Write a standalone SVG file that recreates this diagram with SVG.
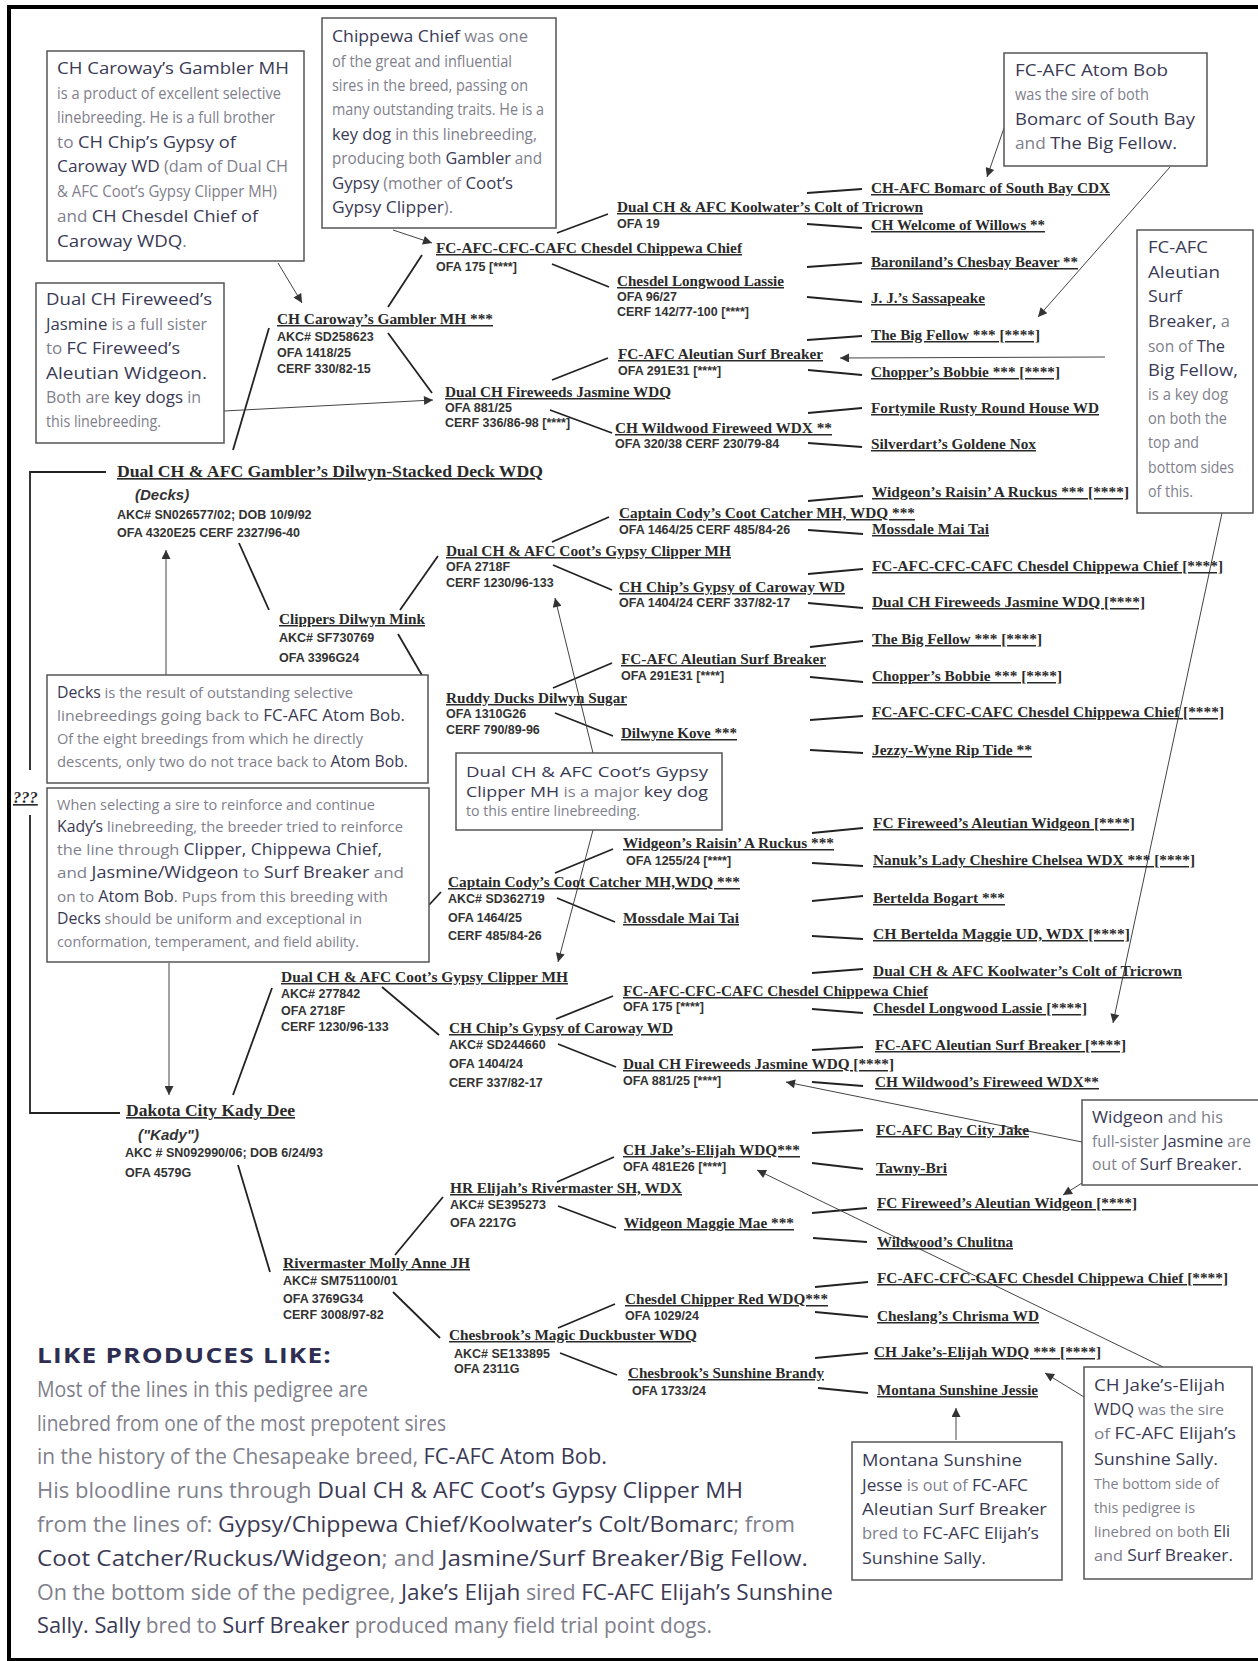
<svg xmlns="http://www.w3.org/2000/svg" width="1258" height="1661" viewBox="0 0 1258 1661">
<style>
.nm{font-family:"Liberation Serif","Times New Roman",serif;font-weight:bold;font-size:15px;fill:#2a2a2a;text-decoration:underline}
.big{font-size:16.5px}
.inf{font-family:"Liberation Sans",Arial,sans-serif;font-weight:bold;font-size:12.5px;fill:#333}
.it{font-family:"Liberation Sans",Arial,sans-serif;font-weight:bold;font-style:italic;font-size:15px;fill:#333}
.ct{font-family:"Liberation Sans Narrow","Open Sans",sans-serif;font-size:16px;fill:#80808c}
.d{font-family:"Open Sans","Noto Sans",sans-serif;font-size:17px;fill:#3a3a55}
.k .ct{font-size:14px}
.k .d{font-size:15px}
.s .ct{font-size:15px}
.s .d{font-size:16px}
.lp{font-family:"Liberation Sans Narrow","Open Sans",sans-serif;font-size:21px;fill:#80808c}
.lpd{font-family:"Open Sans","Noto Sans",sans-serif;font-size:22px;fill:#3a3a55}
.ttl{font-family:"Open Sans","Noto Sans",sans-serif;font-weight:bold;font-size:22px;fill:#2e2e52;letter-spacing:1px}
.ln{stroke:#222;stroke-width:1.8;fill:none}
.thin{stroke:#444;stroke-width:1;fill:none;marker-end:url(#ah)}
.box{fill:#fff;stroke:#555;stroke-width:1.5}
.frame{stroke:#000;fill:none}
</style>
<defs>
<marker id="ah" viewBox="0 0 10 10" refX="10" refY="5" markerWidth="13" markerHeight="9" markerUnits="userSpaceOnUse" orient="auto"><path d="M0,0 L10,5 L0,10 z" fill="#333"/></marker>
</defs>
<rect x="0" y="0" width="1258" height="1661" fill="#fff"/>
<g id="frame">
<line class="frame" x1="7" y1="7" x2="1258" y2="7" stroke-width="4"/>
<line class="frame" x1="9" y1="5" x2="9" y2="1661" stroke-width="4"/>
<line class="frame" x1="7" y1="1659.5" x2="1258" y2="1659.5" stroke-width="3"/>
</g>

<g id="connectors">
<path class="ln" d="M106,472 H30 V770"/>
<path class="ln" d="M30,815 V1113 H120"/>
<line class="ln" x1="388" y1="307" x2="422" y2="255"/>
<line class="ln" x1="388" y1="333" x2="432" y2="393"/>
<line class="ln" x1="269" y1="328" x2="233" y2="450"/>
<line class="ln" x1="557" y1="233" x2="608" y2="214"/>
<line class="ln" x1="552" y1="264" x2="609" y2="287"/>
<line class="ln" x1="552" y1="380" x2="608" y2="358"/>
<line class="ln" x1="550" y1="410" x2="612" y2="433"/>
<line class="ln" x1="807" y1="193" x2="862" y2="189"/>
<line class="ln" x1="807" y1="224" x2="862" y2="228"/>
<line class="ln" x1="807" y1="267" x2="862" y2="263"/>
<line class="ln" x1="807" y1="297" x2="862" y2="302"/>
<line class="ln" x1="807" y1="340" x2="862" y2="336"/>
<line class="ln" x1="808" y1="370" x2="862" y2="375"/>
<line class="ln" x1="808" y1="413" x2="862" y2="408"/>
<line class="ln" x1="808" y1="443" x2="862" y2="447"/>
<line class="ln" x1="239" y1="543" x2="269" y2="610"/>
<line class="ln" x1="400" y1="610" x2="438" y2="556"/>
<line class="ln" x1="398" y1="634" x2="423" y2="677"/>
<line class="ln" x1="552" y1="542" x2="609" y2="517"/>
<line class="ln" x1="553" y1="565" x2="612" y2="590"/>
<line class="ln" x1="553" y1="688" x2="612" y2="663"/>
<line class="ln" x1="555" y1="713" x2="613" y2="736"/>
<line class="ln" x1="808" y1="501" x2="863" y2="496"/>
<line class="ln" x1="808" y1="530" x2="863" y2="534"/>
<line class="ln" x1="808" y1="574" x2="863" y2="569"/>
<line class="ln" x1="808" y1="603" x2="863" y2="608"/>
<line class="ln" x1="810" y1="647" x2="863" y2="641"/>
<line class="ln" x1="810" y1="677" x2="863" y2="682"/>
<line class="ln" x1="810" y1="720" x2="863" y2="716"/>
<line class="ln" x1="810" y1="750" x2="863" y2="753"/>
<line class="ln" x1="233" y1="1095" x2="272" y2="988"/>
<line class="ln" x1="238" y1="1165" x2="270" y2="1272"/>
<line class="ln" x1="429" y1="905" x2="441" y2="892"/>
<line class="ln" x1="382" y1="987" x2="439" y2="1035"/>
<line class="ln" x1="555" y1="873" x2="613" y2="849"/>
<line class="ln" x1="557" y1="898" x2="615" y2="922"/>
<line class="ln" x1="556" y1="1019" x2="613" y2="996"/>
<line class="ln" x1="558" y1="1044" x2="616" y2="1067"/>
<line class="ln" x1="812" y1="833" x2="863" y2="828"/>
<line class="ln" x1="812" y1="863" x2="863" y2="866"/>
<line class="ln" x1="812" y1="901" x2="863" y2="896"/>
<line class="ln" x1="812" y1="936" x2="863" y2="939"/>
<line class="ln" x1="812" y1="973" x2="863" y2="969"/>
<line class="ln" x1="812" y1="1009" x2="863" y2="1013"/>
<line class="ln" x1="812" y1="1050" x2="863" y2="1047"/>
<line class="ln" x1="812" y1="1082" x2="863" y2="1086"/>
<line class="ln" x1="395" y1="1255" x2="443" y2="1197"/>
<line class="ln" x1="393" y1="1292" x2="440" y2="1338"/>
<line class="ln" x1="557" y1="1182" x2="614" y2="1157"/>
<line class="ln" x1="558" y1="1206" x2="616" y2="1228"/>
<line class="ln" x1="558" y1="1328" x2="615" y2="1304"/>
<line class="ln" x1="560" y1="1353" x2="617" y2="1375"/>
<line class="ln" x1="812" y1="1133" x2="863" y2="1130"/>
<line class="ln" x1="812" y1="1163" x2="863" y2="1169"/>
<line class="ln" x1="812" y1="1213" x2="867" y2="1208"/>
<line class="ln" x1="813" y1="1238" x2="867" y2="1242"/>
<line class="ln" x1="815" y1="1287" x2="868" y2="1282"/>
<line class="ln" x1="815" y1="1312" x2="868" y2="1317"/>
<line class="ln" x1="815" y1="1358" x2="868" y2="1353"/>
<line class="ln" x1="818" y1="1388" x2="868" y2="1393"/>
<line class="thin" x1="278" y1="263" x2="302" y2="303"/>
<line class="thin" x1="393" y1="230" x2="432" y2="243"/>
<line class="thin" x1="224" y1="411" x2="433" y2="400"/>
<line class="thin" x1="1004" y1="128" x2="987" y2="177"/>
<line class="thin" x1="1170" y1="167" x2="1038" y2="317"/>
<line class="thin" x1="1105" y1="357" x2="840" y2="358"/>
<line class="thin" x1="1222" y1="513" x2="1113" y2="1023"/>
<line class="thin" x1="166" y1="675" x2="166" y2="550"/>
<line class="thin" x1="169" y1="963" x2="169" y2="1095"/>
<line class="thin" x1="593" y1="753" x2="555" y2="598"/>
<line class="thin" x1="593" y1="830" x2="558" y2="962"/>
<line class="thin" x1="1082" y1="1142" x2="786" y2="1082"/>
<line class="thin" x1="1082" y1="1183" x2="1063" y2="1195"/>
<line class="thin" x1="1084" y1="1397" x2="1045" y2="1373"/>
<line class="thin" x1="1163" y1="1367" x2="757" y2="1170"/>
<line class="thin" x1="956" y1="1440" x2="956" y2="1408"/>
</g>

<g id="n-decks">
<text class="nm big" x="117" y="477" textLength="426" lengthAdjust="spacingAndGlyphs">Dual CH &amp; AFC Gambler’s Dilwyn-Stacked Deck WDQ</text>
<text class="it" x="135" y="500">(Decks)</text>
<text class="inf" x="117" y="519">AKC# SN026577/02; DOB 10/9/92</text>
<text class="inf" x="117" y="537">OFA 4320E25  CERF 2327/96-40</text>
</g>
<g id="n-unknown"><text class="nm big" x="13" y="803" font-style="italic">???</text></g>
<g id="n-gambler">
<text class="nm" x="277" y="324" textLength="216" lengthAdjust="spacingAndGlyphs">CH Caroway’s Gambler MH ***</text>
<text class="inf" x="277" y="341">AKC# SD258623</text>
<text class="inf" x="277" y="357">OFA 1418/25</text>
<text class="inf" x="277" y="373">CERF 330/82-15</text>
</g>
<g id="n-chippewa1">
<text class="nm" x="436" y="253" textLength="306" lengthAdjust="spacingAndGlyphs">FC-AFC-CFC-CAFC Chesdel Chippewa Chief</text>
<text class="inf" x="436" y="271">OFA 175  [****]</text>
</g>
<g id="n-koolwater1">
<text class="nm" x="617" y="212" textLength="306" lengthAdjust="spacingAndGlyphs">Dual CH &amp; AFC Koolwater’s Colt of Tricrown</text>
<text class="inf" x="617" y="228">OFA 19</text>
</g>
<g id="n-lassie1">
<text class="nm" x="617" y="286" textLength="167" lengthAdjust="spacingAndGlyphs">Chesdel Longwood Lassie</text>
<text class="inf" x="617" y="301">OFA 96/27</text>
<text class="inf" x="617" y="316">CERF 142/77-100 [****]</text>
</g>
<g id="n-surf1">
<text class="nm" x="618" y="359" textLength="205" lengthAdjust="spacingAndGlyphs">FC-AFC Aleutian Surf Breaker</text>
<text class="inf" x="618" y="375">OFA 291E31  [****]</text>
</g>
<g id="n-jasmine1">
<text class="nm" x="445" y="397" textLength="226" lengthAdjust="spacingAndGlyphs">Dual CH Fireweeds Jasmine WDQ</text>
<text class="inf" x="445" y="412">OFA 881/25</text>
<text class="inf" x="445" y="427">CERF 336/86-98 [****]</text>
</g>
<g id="n-wildwood1">
<text class="nm" x="615" y="433" textLength="217" lengthAdjust="spacingAndGlyphs">CH Wildwood Fireweed WDX **</text>
<text class="inf" x="615" y="448">OFA 320/38 CERF 230/79-84</text>
</g>
<g id="n-g4-top">
<text class="nm" x="871" y="193" textLength="239" lengthAdjust="spacingAndGlyphs">CH-AFC Bomarc of South Bay CDX</text>
<text class="nm" x="871" y="230" textLength="174" lengthAdjust="spacingAndGlyphs">CH Welcome of Willows **</text>
<text class="nm" x="871" y="267" textLength="207" lengthAdjust="spacingAndGlyphs">Baroniland’s Chesbay Beaver **</text>
<text class="nm" x="871" y="303" textLength="114" lengthAdjust="spacingAndGlyphs">J. J.’s Sassapeake</text>
<text class="nm" x="871" y="340" textLength="169" lengthAdjust="spacingAndGlyphs">The Big Fellow *** [****]</text>
<text class="nm" x="871" y="377" textLength="189" lengthAdjust="spacingAndGlyphs">Chopper’s Bobbie *** [****]</text>
<text class="nm" x="871" y="413" textLength="228" lengthAdjust="spacingAndGlyphs">Fortymile Rusty Round House WD</text>
<text class="nm" x="871" y="449" textLength="165" lengthAdjust="spacingAndGlyphs">Silverdart’s Goldene Nox</text>
</g>
<g id="n-clippers">
<text class="nm" x="279" y="624" textLength="146" lengthAdjust="spacingAndGlyphs">Clippers Dilwyn Mink</text>
<text class="inf" x="279" y="642">AKC# SF730769</text>
<text class="inf" x="279" y="662">OFA  3396G24</text>
</g>
<g id="n-coot1">
<text class="nm" x="446" y="556" textLength="285" lengthAdjust="spacingAndGlyphs">Dual CH &amp; AFC Coot’s Gypsy Clipper MH</text>
<text class="inf" x="446" y="571">OFA 2718F</text>
<text class="inf" x="446" y="587">CERF 1230/96-133</text>
</g>
<g id="n-cody1">
<text class="nm" x="619" y="518" textLength="296" lengthAdjust="spacingAndGlyphs">Captain Cody’s Coot Catcher MH, WDQ ***</text>
<text class="inf" x="619" y="534">OFA 1464/25  CERF 485/84-26</text>
</g>
<g id="n-chip1">
<text class="nm" x="619" y="592" textLength="226" lengthAdjust="spacingAndGlyphs">CH Chip’s Gypsy of Caroway WD</text>
<text class="inf" x="619" y="607">OFA 1404/24  CERF 337/82-17</text>
</g>
<g id="n-surf2">
<text class="nm" x="621" y="664" textLength="205" lengthAdjust="spacingAndGlyphs">FC-AFC Aleutian Surf Breaker</text>
<text class="inf" x="621" y="680">OFA 291E31  [****]</text>
</g>
<g id="n-ruddy">
<text class="nm" x="446" y="703" textLength="181" lengthAdjust="spacingAndGlyphs">Ruddy Ducks Dilwyn Sugar</text>
<text class="inf" x="446" y="718">OFA 1310G26</text>
<text class="inf" x="446" y="734">CERF 790/89-96</text>
</g>
<g id="n-kove"><text class="nm" x="621" y="738" textLength="116" lengthAdjust="spacingAndGlyphs">Dilwyne Kove ***</text></g>
<g id="n-g4-mid">
<text class="nm" x="872" y="497" textLength="257" lengthAdjust="spacingAndGlyphs">Widgeon’s Raisin’ A Ruckus *** [****]</text>
<text class="nm" x="872" y="534" textLength="117" lengthAdjust="spacingAndGlyphs">Mossdale Mai Tai</text>
<text class="nm" x="872" y="571" textLength="351" lengthAdjust="spacingAndGlyphs">FC-AFC-CFC-CAFC Chesdel Chippewa Chief [****]</text>
<text class="nm" x="872" y="607" textLength="273" lengthAdjust="spacingAndGlyphs">Dual CH Fireweeds Jasmine WDQ [****]</text>
<text class="nm" x="872" y="644" textLength="170" lengthAdjust="spacingAndGlyphs">The Big Fellow *** [****]</text>
<text class="nm" x="872" y="681" textLength="190" lengthAdjust="spacingAndGlyphs">Chopper’s Bobbie *** [****]</text>
<text class="nm" x="872" y="717" textLength="352" lengthAdjust="spacingAndGlyphs">FC-AFC-CFC-CAFC Chesdel Chippewa Chief [****]</text>
<text class="nm" x="872" y="755" textLength="160" lengthAdjust="spacingAndGlyphs">Jezzy-Wyne Rip Tide **</text>
</g>

<g id="n-kady">
<text class="nm big" x="126" y="1116" textLength="169" lengthAdjust="spacingAndGlyphs">Dakota City Kady Dee</text>
<text class="it" x="138" y="1140">("Kady")</text>
<text class="inf" x="125" y="1157">AKC # SN092990/06;  DOB 6/24/93</text>
<text class="inf" x="125" y="1177">OFA 4579G</text>
</g>
<g id="n-coot2">
<text class="nm" x="281" y="982" textLength="287" lengthAdjust="spacingAndGlyphs">Dual CH &amp; AFC Coot’s Gypsy Clipper MH</text>
<text class="inf" x="281" y="998">AKC# 277842</text>
<text class="inf" x="281" y="1015">OFA 2718F</text>
<text class="inf" x="281" y="1031">CERF 1230/96-133</text>
</g>
<g id="n-cody2">
<text class="nm" x="448" y="887" textLength="292" lengthAdjust="spacingAndGlyphs">Captain Cody’s Coot Catcher MH,WDQ ***</text>
<text class="inf" x="448" y="903">AKC# SD362719</text>
<text class="inf" x="448" y="922">OFA 1464/25</text>
<text class="inf" x="448" y="940">CERF 485/84-26</text>
</g>
<g id="n-ruckus">
<text class="nm" x="623" y="848" textLength="211" lengthAdjust="spacingAndGlyphs">Widgeon’s Raisin’ A Ruckus ***</text>
<text class="inf" x="626" y="865">OFA 1255/24 [****]</text>
</g>
<g id="n-mossdale"><text class="nm" x="623" y="923" textLength="116" lengthAdjust="spacingAndGlyphs">Mossdale Mai Tai</text></g>
<g id="n-chippewa2">
<text class="nm" x="623" y="996" textLength="305" lengthAdjust="spacingAndGlyphs">FC-AFC-CFC-CAFC Chesdel Chippewa Chief</text>
<text class="inf" x="623" y="1011">OFA 175 [****]</text>
</g>
<g id="n-chip2">
<text class="nm" x="449" y="1033" textLength="224" lengthAdjust="spacingAndGlyphs">CH Chip’s Gypsy of Caroway WD</text>
<text class="inf" x="449" y="1049">AKC# SD244660</text>
<text class="inf" x="449" y="1068">OFA 1404/24</text>
<text class="inf" x="449" y="1087">CERF 337/82-17</text>
</g>
<g id="n-jasmine2">
<text class="nm" x="623" y="1069" textLength="271" lengthAdjust="spacingAndGlyphs">Dual CH Fireweeds Jasmine WDQ [****]</text>
<text class="inf" x="623" y="1085">OFA 881/25 [****]</text>
</g>
<g id="n-jake">
<text class="nm" x="623" y="1155" textLength="177" lengthAdjust="spacingAndGlyphs">CH Jake’s-Elijah WDQ***</text>
<text class="inf" x="623" y="1171">OFA 481E26  [****]</text>
</g>
<g id="n-hrelijah">
<text class="nm" x="450" y="1193" textLength="232" lengthAdjust="spacingAndGlyphs">HR Elijah’s Rivermaster SH, WDX</text>
<text class="inf" x="450" y="1209">AKC# SE395273</text>
<text class="inf" x="450" y="1227">OFA 2217G</text>
</g>
<g id="n-maggie"><text class="nm" x="624" y="1228" textLength="170" lengthAdjust="spacingAndGlyphs">Widgeon Maggie Mae ***</text></g>
<g id="n-molly">
<text class="nm" x="283" y="1268" textLength="187" lengthAdjust="spacingAndGlyphs">Rivermaster Molly Anne JH</text>
<text class="inf" x="283" y="1285">AKC# SM751100/01</text>
<text class="inf" x="283" y="1303">OFA 3769G34</text>
<text class="inf" x="283" y="1319">CERF 3008/97-82</text>
</g>
<g id="n-magic">
<text class="nm" x="449" y="1340" textLength="248" lengthAdjust="spacingAndGlyphs">Chesbrook’s Magic Duckbuster WDQ</text>
<text class="inf" x="454" y="1358">AKC# SE133895</text>
<text class="inf" x="454" y="1373">OFA 2311G</text>
</g>
<g id="n-chipperred">
<text class="nm" x="625" y="1304" textLength="203" lengthAdjust="spacingAndGlyphs">Chesdel Chipper Red WDQ***</text>
<text class="inf" x="625" y="1320">OFA 1029/24</text>
</g>
<g id="n-brandy">
<text class="nm" x="628" y="1378" textLength="196" lengthAdjust="spacingAndGlyphs">Chesbrook’s Sunshine Brandy</text>
<text class="inf" x="632" y="1395">OFA 1733/24</text>
</g>
<g id="n-g4-low">
<text class="nm" x="873" y="828" textLength="262" lengthAdjust="spacingAndGlyphs">FC Fireweed’s Aleutian Widgeon [****]</text>
<text class="nm" x="873" y="865" textLength="322" lengthAdjust="spacingAndGlyphs">Nanuk’s Lady Cheshire Chelsea WDX *** [****]</text>
<text class="nm" x="873" y="903" textLength="132" lengthAdjust="spacingAndGlyphs">Bertelda Bogart ***</text>
<text class="nm" x="873" y="939" textLength="257" lengthAdjust="spacingAndGlyphs">CH Bertelda Maggie UD, WDX  [****]</text>
<text class="nm" x="873" y="976" textLength="309" lengthAdjust="spacingAndGlyphs">Dual CH &amp; AFC Koolwater’s Colt of Tricrown</text>
<text class="nm" x="873" y="1013" textLength="214" lengthAdjust="spacingAndGlyphs">Chesdel Longwood Lassie [****]</text>
<text class="nm" x="875" y="1050" textLength="251" lengthAdjust="spacingAndGlyphs">FC-AFC Aleutian Surf Breaker [****]</text>
<text class="nm" x="875" y="1087" textLength="224" lengthAdjust="spacingAndGlyphs">CH Wildwood’s Fireweed WDX**</text>
<text class="nm" x="876" y="1135" textLength="153" lengthAdjust="spacingAndGlyphs">FC-AFC Bay City Jake</text>
<text class="nm" x="876" y="1173" textLength="71" lengthAdjust="spacingAndGlyphs">Tawny-Bri</text>
<text class="nm" x="877" y="1208" textLength="260" lengthAdjust="spacingAndGlyphs">FC Fireweed’s Aleutian Widgeon [****]</text>
<text class="nm" x="877" y="1247" textLength="136" lengthAdjust="spacingAndGlyphs">Wildwood’s Chulitna</text>
<text class="nm" x="877" y="1283" textLength="351" lengthAdjust="spacingAndGlyphs">FC-AFC-CFC-CAFC Chesdel Chippewa Chief [****]</text>
<text class="nm" x="877" y="1321" textLength="162" lengthAdjust="spacingAndGlyphs">Cheslang’s Chrisma WD</text>
<text class="nm" x="874" y="1357" textLength="227" lengthAdjust="spacingAndGlyphs">CH Jake’s-Elijah WDQ *** [****]</text>
<text class="nm" x="877" y="1395" textLength="161" lengthAdjust="spacingAndGlyphs">Montana Sunshine Jessie</text>
</g>

<g id="note-gambler">
<rect class="box" x="47" y="51" width="257" height="210"/>
<text x="57" y="74" textLength="232" lengthAdjust="spacingAndGlyphs"><tspan class="d">CH Caroway’s Gambler MH</tspan></text>
<text x="57" y="99" textLength="224" lengthAdjust="spacingAndGlyphs"><tspan class="ct">is a product of excellent selective</tspan></text>
<text x="57" y="123" textLength="218" lengthAdjust="spacingAndGlyphs"><tspan class="ct">linebreeding. He is a full brother</tspan></text>
<text x="57" y="148" textLength="179" lengthAdjust="spacingAndGlyphs"><tspan class="ct">to </tspan><tspan class="d">CH Chip’s Gypsy of</tspan></text>
<text x="57" y="172" textLength="231" lengthAdjust="spacingAndGlyphs"><tspan class="d">Caroway WD</tspan><tspan class="ct"> (dam of Dual CH</tspan></text>
<text x="57" y="197" textLength="220" lengthAdjust="spacingAndGlyphs"><tspan class="ct">&amp; AFC Coot’s Gypsy Clipper MH)</tspan></text>
<text x="57" y="222" textLength="201" lengthAdjust="spacingAndGlyphs"><tspan class="ct">and </tspan><tspan class="d">CH Chesdel Chief of</tspan></text>
<text x="57" y="247" textLength="130" lengthAdjust="spacingAndGlyphs"><tspan class="d">Caroway WDQ</tspan><tspan class="ct">.</tspan></text>
</g>
<g id="note-chippewa">
<rect class="box" x="322" y="18" width="234" height="210"/>
<text x="332" y="42" textLength="196" lengthAdjust="spacingAndGlyphs"><tspan class="d">Chippewa Chief</tspan><tspan class="ct"> was one</tspan></text>
<text x="332" y="67" textLength="180" lengthAdjust="spacingAndGlyphs"><tspan class="ct">of the great and influential</tspan></text>
<text x="332" y="91" textLength="196" lengthAdjust="spacingAndGlyphs"><tspan class="ct">sires in the breed, passing on</tspan></text>
<text x="332" y="115" textLength="212" lengthAdjust="spacingAndGlyphs"><tspan class="ct">many outstanding traits. He is a</tspan></text>
<text x="332" y="140" textLength="205" lengthAdjust="spacingAndGlyphs"><tspan class="d">key dog</tspan><tspan class="ct"> in this linebreeding,</tspan></text>
<text x="332" y="164" textLength="210" lengthAdjust="spacingAndGlyphs"><tspan class="ct">producing both </tspan><tspan class="d">Gambler</tspan><tspan class="ct"> and</tspan></text>
<text x="332" y="189" textLength="181" lengthAdjust="spacingAndGlyphs"><tspan class="d">Gypsy</tspan><tspan class="ct"> (mother of </tspan><tspan class="d">Coot’s</tspan></text>
<text x="332" y="213" textLength="121" lengthAdjust="spacingAndGlyphs"><tspan class="d">Gypsy Clipper</tspan><tspan class="ct">).</tspan></text>
</g>
<g id="note-jasmine">
<rect class="box" x="36" y="283" width="188" height="160"/>
<text x="46" y="305" textLength="166" lengthAdjust="spacingAndGlyphs"><tspan class="d">Dual CH Fireweed’s</tspan></text>
<text x="46" y="330" textLength="161" lengthAdjust="spacingAndGlyphs"><tspan class="d">Jasmine</tspan><tspan class="ct"> is a full sister</tspan></text>
<text x="46" y="354" textLength="134" lengthAdjust="spacingAndGlyphs"><tspan class="ct">to </tspan><tspan class="d">FC Fireweed’s</tspan></text>
<text x="46" y="379" textLength="161" lengthAdjust="spacingAndGlyphs"><tspan class="d">Aleutian Widgeon.</tspan></text>
<text x="46" y="403" textLength="155" lengthAdjust="spacingAndGlyphs"><tspan class="ct">Both are </tspan><tspan class="d">key dogs</tspan><tspan class="ct"> in</tspan></text>
<text x="46" y="427" textLength="115" lengthAdjust="spacingAndGlyphs"><tspan class="ct">this linebreeding.</tspan></text>
</g>
<g id="note-atombob">
<rect class="box" x="1004" y="53" width="203" height="113"/>
<text x="1015" y="76" textLength="153" lengthAdjust="spacingAndGlyphs"><tspan class="d">FC-AFC Atom Bob</tspan></text>
<text x="1015" y="100" textLength="134" lengthAdjust="spacingAndGlyphs"><tspan class="ct">was the sire of both</tspan></text>
<text x="1015" y="125" textLength="180" lengthAdjust="spacingAndGlyphs"><tspan class="d">Bomarc of South Bay</tspan></text>
<text x="1015" y="149" textLength="162" lengthAdjust="spacingAndGlyphs"><tspan class="ct">and </tspan><tspan class="d">The Big Fellow.</tspan></text>
</g>
<g id="note-surfbreaker">
<rect class="box" x="1137" y="230" width="116" height="283"/>
<text x="1148" y="253" textLength="60" lengthAdjust="spacingAndGlyphs"><tspan class="d">FC-AFC</tspan></text>
<text x="1148" y="278" textLength="72" lengthAdjust="spacingAndGlyphs"><tspan class="d">Aleutian</tspan></text>
<text x="1148" y="302" textLength="34" lengthAdjust="spacingAndGlyphs"><tspan class="d">Surf</tspan></text>
<text x="1148" y="327" textLength="82" lengthAdjust="spacingAndGlyphs"><tspan class="d">Breaker,</tspan><tspan class="ct"> a</tspan></text>
<text x="1148" y="352" textLength="77" lengthAdjust="spacingAndGlyphs"><tspan class="ct">son of </tspan><tspan class="d">The</tspan></text>
<text x="1148" y="376" textLength="90" lengthAdjust="spacingAndGlyphs"><tspan class="d">Big Fellow,</tspan></text>
<text x="1148" y="400" textLength="80" lengthAdjust="spacingAndGlyphs"><tspan class="ct">is a key dog</tspan></text>
<text x="1148" y="424" textLength="79" lengthAdjust="spacingAndGlyphs"><tspan class="ct">on both the</tspan></text>
<text x="1148" y="448" textLength="51" lengthAdjust="spacingAndGlyphs"><tspan class="ct">top and</tspan></text>
<text x="1148" y="473" textLength="86" lengthAdjust="spacingAndGlyphs"><tspan class="ct">bottom sides</tspan></text>
<text x="1148" y="497" textLength="45" lengthAdjust="spacingAndGlyphs"><tspan class="ct">of this.</tspan></text>
</g>
<g id="note-decks" class="s">
<rect class="box" x="47" y="675" width="381" height="108"/>
<text x="57" y="698" textLength="296" lengthAdjust="spacingAndGlyphs"><tspan class="d">Decks</tspan><tspan class="ct"> is the result of outstanding selective</tspan></text>
<text x="57" y="721" textLength="348" lengthAdjust="spacingAndGlyphs"><tspan class="ct">linebreedings going back to </tspan><tspan class="d">FC-AFC Atom Bob.</tspan></text>
<text x="57" y="744" textLength="306" lengthAdjust="spacingAndGlyphs"><tspan class="ct">Of the eight breedings from which he directly</tspan></text>
<text x="57" y="767" textLength="351" lengthAdjust="spacingAndGlyphs"><tspan class="ct">descents, only two do not trace back to </tspan><tspan class="d">Atom Bob.</tspan></text>
</g>
<g id="note-kady" class="s">
<rect class="box" x="47" y="788" width="382" height="174"/>
<text x="57" y="810" textLength="318" lengthAdjust="spacingAndGlyphs"><tspan class="ct">When selecting a sire to reinforce and continue</tspan></text>
<text x="57" y="832" textLength="346" lengthAdjust="spacingAndGlyphs"><tspan class="d">Kady’s</tspan><tspan class="ct"> linebreeding, the breeder tried to reinforce</tspan></text>
<text x="57" y="855" textLength="325" lengthAdjust="spacingAndGlyphs"><tspan class="ct">the line through </tspan><tspan class="d">Clipper, Chippewa Chief,</tspan></text>
<text x="57" y="878" textLength="347" lengthAdjust="spacingAndGlyphs"><tspan class="ct">and </tspan><tspan class="d">Jasmine/Widgeon</tspan><tspan class="ct"> to </tspan><tspan class="d">Surf Breaker</tspan><tspan class="ct"> and</tspan></text>
<text x="57" y="902" textLength="331" lengthAdjust="spacingAndGlyphs"><tspan class="ct">on to </tspan><tspan class="d">Atom Bob</tspan><tspan class="ct">. Pups from this breeding with</tspan></text>
<text x="57" y="924" textLength="305" lengthAdjust="spacingAndGlyphs"><tspan class="d">Decks</tspan><tspan class="ct"> should be uniform and exceptional in</tspan></text>
<text x="57" y="947" textLength="302" lengthAdjust="spacingAndGlyphs"><tspan class="ct">conformation, temperament, and field ability.</tspan></text>
</g>
<g id="note-clipper" class="k">
<rect class="box" x="456" y="753" width="266" height="77"/>
<text x="466" y="777" textLength="242" lengthAdjust="spacingAndGlyphs"><tspan class="d">Dual CH &amp; AFC Coot’s Gypsy</tspan></text>
<text x="466" y="797" textLength="242" lengthAdjust="spacingAndGlyphs"><tspan class="d">Clipper MH</tspan><tspan class="ct"> is a major </tspan><tspan class="d">key dog</tspan></text>
<text x="466" y="816" textLength="174" lengthAdjust="spacingAndGlyphs"><tspan class="ct">to this entire linebreeding.</tspan></text>
</g>
<g id="note-widgeon">
<rect class="box" x="1082" y="1100" width="180" height="85"/>
<text x="1092" y="1123" textLength="131" lengthAdjust="spacingAndGlyphs"><tspan class="d">Widgeon</tspan><tspan class="ct"> and his</tspan></text>
<text x="1092" y="1147" textLength="159" lengthAdjust="spacingAndGlyphs"><tspan class="ct">full-sister </tspan><tspan class="d">Jasmine</tspan><tspan class="ct"> are</tspan></text>
<text x="1092" y="1170" textLength="150" lengthAdjust="spacingAndGlyphs"><tspan class="ct">out of </tspan><tspan class="d">Surf Breaker.</tspan></text>
</g>
<g id="note-montana">
<rect class="box" x="852" y="1442" width="210" height="138"/>
<text x="862" y="1466" textLength="160" lengthAdjust="spacingAndGlyphs"><tspan class="d">Montana Sunshine</tspan></text>
<text x="862" y="1491" textLength="166" lengthAdjust="spacingAndGlyphs"><tspan class="d">Jesse</tspan><tspan class="ct"> is out of </tspan><tspan class="d">FC-AFC</tspan></text>
<text x="862" y="1515" textLength="185" lengthAdjust="spacingAndGlyphs"><tspan class="d">Aleutian Surf Breaker</tspan></text>
<text x="862" y="1539" textLength="177" lengthAdjust="spacingAndGlyphs"><tspan class="ct">bred to </tspan><tspan class="d">FC-AFC Elijah’s</tspan></text>
<text x="862" y="1564" textLength="124" lengthAdjust="spacingAndGlyphs"><tspan class="d">Sunshine Sally.</tspan></text>
</g>
<g id="note-jake" class="s">
<rect class="box" x="1084" y="1367" width="168" height="212"/>
<text x="1094" y="1391" textLength="131" lengthAdjust="spacingAndGlyphs"><tspan class="d">CH Jake’s-Elijah</tspan></text>
<text x="1094" y="1415" textLength="130" lengthAdjust="spacingAndGlyphs"><tspan class="d">WDQ</tspan><tspan class="ct"> was the sire</tspan></text>
<text x="1094" y="1439" textLength="142" lengthAdjust="spacingAndGlyphs"><tspan class="ct">of </tspan><tspan class="d">FC-AFC Elijah’s</tspan></text>
<text x="1094" y="1465" textLength="124" lengthAdjust="spacingAndGlyphs"><tspan class="d">Sunshine Sally.</tspan></text>
<text x="1094" y="1489" textLength="125" lengthAdjust="spacingAndGlyphs"><tspan class="ct">The bottom side of</tspan></text>
<text x="1094" y="1513" textLength="101" lengthAdjust="spacingAndGlyphs"><tspan class="ct">this pedigree is</tspan></text>
<text x="1094" y="1537" textLength="136" lengthAdjust="spacingAndGlyphs"><tspan class="ct">linebred on both </tspan><tspan class="d">Eli</tspan></text>
<text x="1094" y="1561" textLength="139" lengthAdjust="spacingAndGlyphs"><tspan class="ct">and </tspan><tspan class="d">Surf Breaker.</tspan></text>
</g>
<g id="note-likeproduceslike">
<text class="ttl" x="37" y="1363" textLength="295" lengthAdjust="spacingAndGlyphs">LIKE PRODUCES LIKE:</text>
<text x="37" y="1397" textLength="331" lengthAdjust="spacingAndGlyphs"><tspan class="lp">Most of the lines in this pedigree are</tspan></text>
<text x="37" y="1431" textLength="409" lengthAdjust="spacingAndGlyphs"><tspan class="lp">linebred from one of the most prepotent sires</tspan></text>
<text x="37" y="1464" textLength="570" lengthAdjust="spacingAndGlyphs"><tspan class="lp">in the history of the Chesapeake breed, </tspan><tspan class="lpd">FC-AFC Atom Bob.</tspan></text>
<text x="37" y="1498" textLength="706" lengthAdjust="spacingAndGlyphs"><tspan class="lp">His bloodline runs through </tspan><tspan class="lpd">Dual CH &amp; AFC Coot’s Gypsy Clipper MH</tspan></text>
<text x="37" y="1532" textLength="758" lengthAdjust="spacingAndGlyphs"><tspan class="lp">from the lines of: </tspan><tspan class="lpd">Gypsy/Chippewa Chief/Koolwater’s Colt/Bomarc</tspan><tspan class="lp">; from</tspan></text>
<text x="37" y="1566" textLength="771" lengthAdjust="spacingAndGlyphs"><tspan class="lpd">Coot Catcher/Ruckus/Widgeon</tspan><tspan class="lp">; and </tspan><tspan class="lpd">Jasmine/Surf Breaker/Big Fellow.</tspan></text>
<text x="37" y="1600" textLength="796" lengthAdjust="spacingAndGlyphs"><tspan class="lp">On the bottom side of the pedigree, </tspan><tspan class="lpd">Jake’s Elijah</tspan><tspan class="lp"> sired </tspan><tspan class="lpd">FC-AFC Elijah’s Sunshine</tspan></text>
<text x="37" y="1633" textLength="675" lengthAdjust="spacingAndGlyphs"><tspan class="lpd">Sally. Sally</tspan><tspan class="lp"> bred to </tspan><tspan class="lpd">Surf Breaker</tspan><tspan class="lp"> produced many field trial point dogs.</tspan></text>
</g>
</svg>
